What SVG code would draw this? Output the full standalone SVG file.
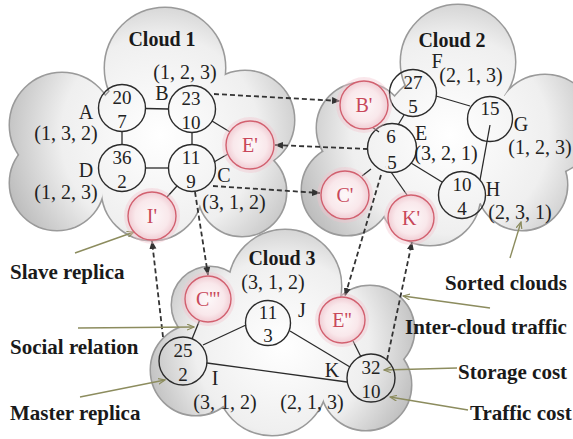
<svg xmlns="http://www.w3.org/2000/svg" width="573" height="439" viewBox="0 0 573 439">
<defs>
<radialGradient id="g1" gradientUnits="userSpaceOnUse" cx="160" cy="135" r="165">
<stop offset="0" stop-color="#ffffff"/><stop offset="0.6" stop-color="#efefef"/><stop offset="1" stop-color="#bababa"/>
</radialGradient>
<radialGradient id="g2" gradientUnits="userSpaceOnUse" cx="450" cy="135" r="165">
<stop offset="0" stop-color="#ffffff"/><stop offset="0.6" stop-color="#efefef"/><stop offset="1" stop-color="#bababa"/>
</radialGradient>
<radialGradient id="g3" gradientUnits="userSpaceOnUse" cx="282" cy="345" r="145">
<stop offset="0" stop-color="#ffffff"/><stop offset="0.6" stop-color="#efefef"/><stop offset="1" stop-color="#bababa"/>
</radialGradient>
<radialGradient id="pink" cx="0.5" cy="0.5" r="0.5">
<stop offset="0" stop-color="#fdf8f9"/><stop offset="0.7" stop-color="#f9e8eb"/><stop offset="1" stop-color="#f1cdd4"/>
</radialGradient>
<marker id="ah" markerWidth="9" markerHeight="8" refX="8" refY="4" orient="auto" markerUnits="userSpaceOnUse">
<path d="M0,0.5 L8.5,4 L0,7.5 z" fill="#333"/>
</marker>
<marker id="la" markerWidth="8" markerHeight="7" refX="7" refY="3.5" orient="auto" markerUnits="userSpaceOnUse">
<path d="M0,0.5 L7,3.5 L0,6.5" fill="none" stroke="#8c8c5e" stroke-width="1.2"/>
</marker>
<g id="c1s">
<circle cx="165" cy="68" r="60"/><circle cx="62" cy="125" r="52"/><circle cx="57" cy="183" r="47"/>
<circle cx="245" cy="120" r="49"/><circle cx="242" cy="192" r="44"/><circle cx="152" cy="190" r="50"/>
<circle cx="160" cy="140" r="70"/>
</g>
<g id="c2s">
<circle cx="458" cy="62" r="57"/><circle cx="362" cy="128" r="45"/><circle cx="347" cy="190" r="45"/>
<circle cx="545" cy="125" r="50"/><circle cx="430" cy="195" r="50"/><circle cx="522" cy="185" r="45"/>
<circle cx="450" cy="140" r="70"/>
</g>
<g id="c3s">
<circle cx="285" cy="286" r="56"/><circle cx="210" cy="305" r="38"/><circle cx="196" cy="370" r="45"/>
<circle cx="370" cy="330" r="44"/><circle cx="366" cy="385" r="45"/><circle cx="272" cy="380" r="55"/>
<circle cx="280" cy="350" r="60"/>
</g>
</defs>
<style>
.cs{fill:none;stroke:#9a9a9a;stroke-width:3}
.n{fill:none;stroke:#2b2b2b;stroke-width:1.4}
.r{fill:url(#pink);stroke:#d2606f;stroke-width:1.4}
.halo{fill:#f2c4cd;opacity:0.4}
.t{font-family:"Liberation Serif","Times New Roman",serif;font-size:19px;fill:#222;text-anchor:middle}
.lb{font-family:"Liberation Serif","Times New Roman",serif;font-size:20px;fill:#222;text-anchor:middle}
.rt{font-family:"Liberation Serif","Times New Roman",serif;font-size:20px;fill:#c8485a;text-anchor:middle}
.ti{font-family:"Liberation Serif","Times New Roman",serif;font-weight:bold;font-size:20px;fill:#1a1a1a;text-anchor:middle}
.lg{font-family:"Liberation Serif","Times New Roman",serif;font-weight:bold;font-size:21px;fill:#1a1a1a}
.e{stroke:#2b2b2b;stroke-width:1.3;fill:none}
.d{stroke:#333;stroke-width:1.8;stroke-dasharray:5 3;fill:none;marker-end:url(#ah)}
.l{stroke:#8c8c5e;stroke-width:1.4;fill:none;marker-end:url(#la)}
</style>

<g id="cloud1">
<use href="#c1s" class="cs"/><use href="#c1s" fill="url(#g1)" stroke="none"/>
<text class="ti" x="162" y="46">Cloud 1</text>
</g>
<g id="cloud2">
<use href="#c2s" class="cs"/><use href="#c2s" fill="url(#g2)" stroke="none"/>
<text class="ti" x="452" y="47">Cloud 2</text>
</g>
<g id="cloud3">
<use href="#c3s" class="cs"/><use href="#c3s" fill="url(#g3)" stroke="none"/>
<text class="ti" x="282" y="265">Cloud 3</text>
</g>

<g id="connectors">
<line class="e" x1="145.5" y1="108.5" x2="168.5" y2="109"/>
<line class="e" x1="122" y1="132" x2="122" y2="144.5"/>
<line class="e" x1="192" y1="132.5" x2="192" y2="144.5"/>
<line class="e" x1="145.5" y1="168" x2="168.5" y2="168"/>
<line class="e" x1="212" y1="121" x2="230" y2="132"/>
<line class="e" x1="214" y1="162" x2="228" y2="154"/>
<line class="e" x1="177" y1="186" x2="167" y2="197"/>
<line class="e" x1="436" y1="96" x2="470" y2="106"/>
<line class="e" x1="398" y1="125" x2="404" y2="115"/>
<line class="e" x1="372" y1="127" x2="379" y2="132"/>
<line class="e" x1="411" y1="163" x2="442" y2="182"/>
<line class="e" x1="490" y1="125" x2="480" y2="180"/>
<line class="e" x1="371" y1="169" x2="362" y2="176"/>
<line class="e" x1="391" y1="172" x2="407" y2="195"/>
<line class="e" x1="192" y1="339" x2="199.5" y2="320.5"/>
<line class="e" x1="203" y1="345" x2="246" y2="325"/>
<line class="e" x1="207" y1="363" x2="347" y2="382"/>
<line class="e" x1="290" y1="331" x2="350" y2="367"/>
<line class="e" x1="353" y1="341" x2="361" y2="357"/>
<line class="d" x1="214" y1="94" x2="340" y2="101"/>
<line class="d" x1="368" y1="149" x2="275" y2="145"/>
<line class="d" x1="213" y1="186" x2="320" y2="193"/>
<line class="d" x1="195" y1="192" x2="208" y2="275"/>
<line class="d" x1="163" y1="337" x2="152" y2="241"/>
<line class="d" x1="381" y1="175" x2="345" y2="296"/>
<line class="d" x1="387" y1="360" x2="412" y2="242"/>
<line class="l" x1="75" y1="253" x2="134" y2="232"/>
<line class="l" x1="78" y1="328" x2="194" y2="327"/>
<line class="l" x1="80" y1="397" x2="165" y2="380"/>
<line class="l" x1="510" y1="258" x2="521" y2="222"/>
<line class="l" x1="490" y1="308" x2="403" y2="296"/>
<line class="l" x1="457" y1="368" x2="384" y2="370"/>
<line class="l" x1="468" y1="410" x2="390" y2="397"/>
</g>

<g id="node-A"><circle class="n" cx="122" cy="108" r="23.5"/><text class="t" x="122" y="104">20</text><text class="t" x="122" y="128">7</text></g>
<g id="node-B"><circle class="n" cx="192" cy="109" r="23.5"/><text class="t" x="191" y="105">23</text><text class="t" x="191" y="129">10</text></g>
<g id="node-D"><circle class="n" cx="122" cy="168" r="23.5"/><text class="t" x="122" y="164">36</text><text class="t" x="122" y="188">2</text></g>
<g id="node-C"><circle class="n" cx="192" cy="168" r="23.5"/><text class="t" x="191" y="164">11</text><text class="t" x="191" y="188">9</text></g>
<g id="node-E1"><circle class="halo" cx="250" cy="145" r="28"/><circle class="r" cx="250" cy="145" r="24"/><text class="rt" x="250" y="152">E'</text></g>
<g id="node-I1"><circle class="halo" cx="152" cy="216" r="28"/><circle class="r" cx="152" cy="216" r="24"/><text class="rt" x="152" y="223">I'</text></g>

<g id="node-F"><circle class="n" cx="413" cy="93" r="23.5"/><text class="t" x="413" y="89">27</text><text class="t" x="413" y="113">5</text></g>
<g id="node-G"><circle class="n" cx="490" cy="119" r="22.5"/><text class="t" x="490" y="115">15</text></g>
<g id="node-E"><circle class="n" cx="392" cy="148" r="24.5"/><text class="t" x="391" y="143">6</text><text class="t" x="392" y="169">5</text></g>
<g id="node-H"><circle class="n" cx="462" cy="195" r="23.5"/><text class="t" x="462" y="191">10</text><text class="t" x="462" y="215">4</text></g>
<g id="node-B2"><circle class="halo" cx="364" cy="105" r="28"/><circle class="r" cx="364" cy="105" r="24"/><text class="rt" x="364" y="112">B'</text></g>
<g id="node-C2"><circle class="halo" cx="345" cy="195" r="28"/><circle class="r" cx="345" cy="195" r="24"/><text class="rt" x="345" y="202">C'</text></g>
<g id="node-K2"><circle class="halo" cx="411" cy="218" r="27"/><circle class="r" cx="411" cy="218" r="23"/><text class="rt" x="411" y="225">K'</text></g>

<g id="node-C3"><circle class="halo" cx="208" cy="299" r="27"/><circle class="r" cx="208" cy="299" r="23"/><text class="rt" x="208" y="306">C'''</text></g>
<g id="node-J"><circle class="n" cx="268" cy="323" r="22.5"/><text class="t" x="268" y="319">11</text><text class="t" x="268" y="342">3</text></g>
<g id="node-I"><circle class="n" cx="183" cy="361" r="24"/><text class="t" x="183" y="357">25</text><text class="t" x="183" y="381">2</text></g>
<g id="node-E3"><circle class="halo" cx="342" cy="320" r="27"/><circle class="r" cx="342" cy="320" r="23"/><text class="rt" x="342" y="327">E''</text></g>
<g id="node-K"><circle class="n" cx="371" cy="378" r="24"/><text class="t" x="371" y="374">32</text><text class="t" x="371" y="398">10</text></g>

<g id="labels">
<text class="lb" x="162" y="100">B</text>
<text class="lb" x="185" y="79">(1, 2, 3)</text>
<text class="lb" x="86" y="119">A</text>
<text class="lb" x="66" y="140">(1, 3, 2)</text>
<text class="lb" x="86" y="177">D</text>
<text class="lb" x="66" y="199">(1, 2, 3)</text>
<text class="lb" x="224" y="182">C</text>
<text class="lb" x="234" y="209">(3, 1, 2)</text>
<text class="lb" x="437" y="68">F</text>
<text class="lb" x="471" y="82">(2, 1, 3)</text>
<text class="lb" x="521" y="131">G</text>
<text class="lb" x="540" y="154">(1, 2, 3)</text>
<text class="lb" x="421" y="140">E</text>
<text class="lb" x="446" y="160">(3, 2, 1)</text>
<text class="lb" x="493" y="196">H</text>
<text class="lb" x="520" y="219">(2, 3, 1)</text>
<text class="lb" x="273" y="289">(3, 1, 2)</text>
<text class="lb" x="302" y="317">J</text>
<text class="lb" x="215" y="385">I</text>
<text class="lb" x="225" y="409">(3, 1, 2)</text>
<text class="lb" x="312" y="409">(2, 1, 3)</text>
<text class="lb" x="332" y="377">K</text>
</g>

<g id="legend">
<text class="lg" x="10" y="279">Slave replica</text>
<text class="lg" x="10" y="354">Social relation</text>
<text class="lg" x="10" y="420">Master replica</text>
<text class="lg" x="445" y="290">Sorted clouds</text>
<text class="lg" x="405" y="334">Inter-cloud traffic</text>
<text class="lg" x="458" y="379">Storage cost</text>
<text class="lg" x="470" y="420">Traffic cost</text>
</g>
</svg>
